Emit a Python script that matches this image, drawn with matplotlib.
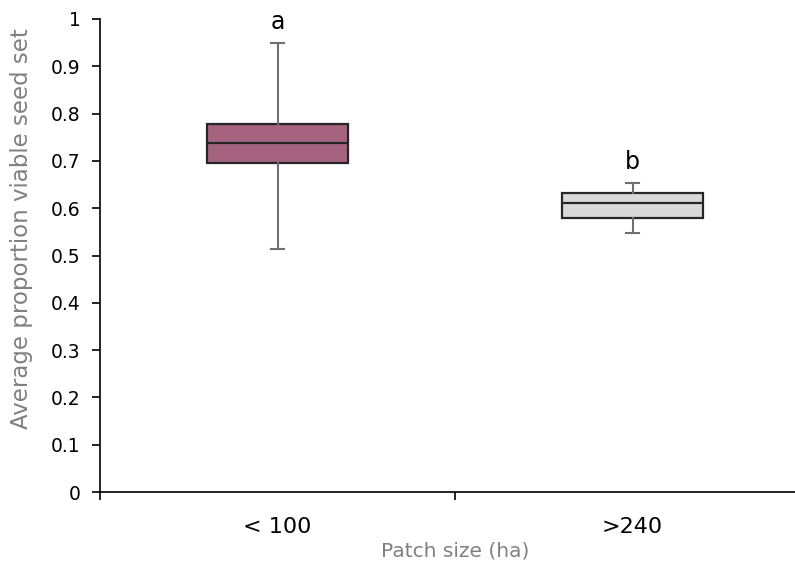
import matplotlib
matplotlib.use("Agg")
import matplotlib.pyplot as plt
import numpy as np

plt.rcParams['font.family'] = ['DejaVu Sans']

# Box summaries per patch size class.
categories = ["< 100", ">240"]
whisker_low = [0.514, 0.548]
q1 = [0.696, 0.579]
medians = [0.738, 0.611]
q3 = [0.778, 0.632]
whisker_high = [0.949, 0.653]
letters = ["a", "b"]
fills = ["#a6637f", "#d9d9d9"]

fig = plt.figure(figsize=(7.95, 5.67), dpi=100, facecolor='w')
ax = fig.add_axes([100/795, 75/567, 710/795, 473/567])

stats = []
for i in range(len(categories)):
    stats.append({'med': medians[i], 'q1': q1[i], 'q3': q3[i],
                  'whislo': whisker_low[i], 'whishi': whisker_high[i],
                  'fliers': [], 'label': categories[i]})

positions = np.arange(len(categories))
bp = ax.bxp(stats, positions=positions, widths=0.395, patch_artist=True,
            showfliers=False, capwidths=0.034,
            boxprops=dict(edgecolor='#262626', linewidth=1.6),
            medianprops=dict(color='#262626', linewidth=1.6),
            whiskerprops=dict(color='#707070', linewidth=1.5),
            capprops=dict(color='#707070', linewidth=1.5))
for patch, c in zip(bp['boxes'], fills):
    patch.set_facecolor(c)

# Significance letters above each box.
for i in range(len(categories)):
    ax.text(positions[i], whisker_high[i] + 0.03, letters[i], ha='center',
            va='baseline', fontsize=17, color='black')

ax.set_xlim(-0.5, 1.5)
ax.set_ylim(0, 1)
ax.set_yticks(np.arange(0, 1.01, 0.1))
ax.set_yticklabels(["%g" % round(v, 1) for v in np.arange(0, 1.01, 0.1)])
ax.set_xticks(positions)
ax.set_xticklabels(categories)
ax.set_xticks([-0.5, 0.5, 1.5], minor=True)
ax.tick_params(axis='x', which='major', length=0, pad=18, labelsize=16)
ax.tick_params(axis='x', which='minor', length=6, width=1.2, direction='out')
ax.tick_params(axis='y', length=6, width=1.2, direction='out', labelsize=13.5, pad=8)

for side in ['top', 'right']:
    ax.spines[side].set_visible(False)
for side in ['left', 'bottom']:
    ax.spines[side].set_linewidth(1.2)

ax.set_ylabel("Average proportion viable seed set", fontsize=16.5, color='#808080')
ax.yaxis.set_label_coords(-0.094, 0.556)
ax.set_xlabel("Patch size (ha)", fontsize=14.5, color='#808080', labelpad=3)

fig.savefig("out.png", dpi=100)
